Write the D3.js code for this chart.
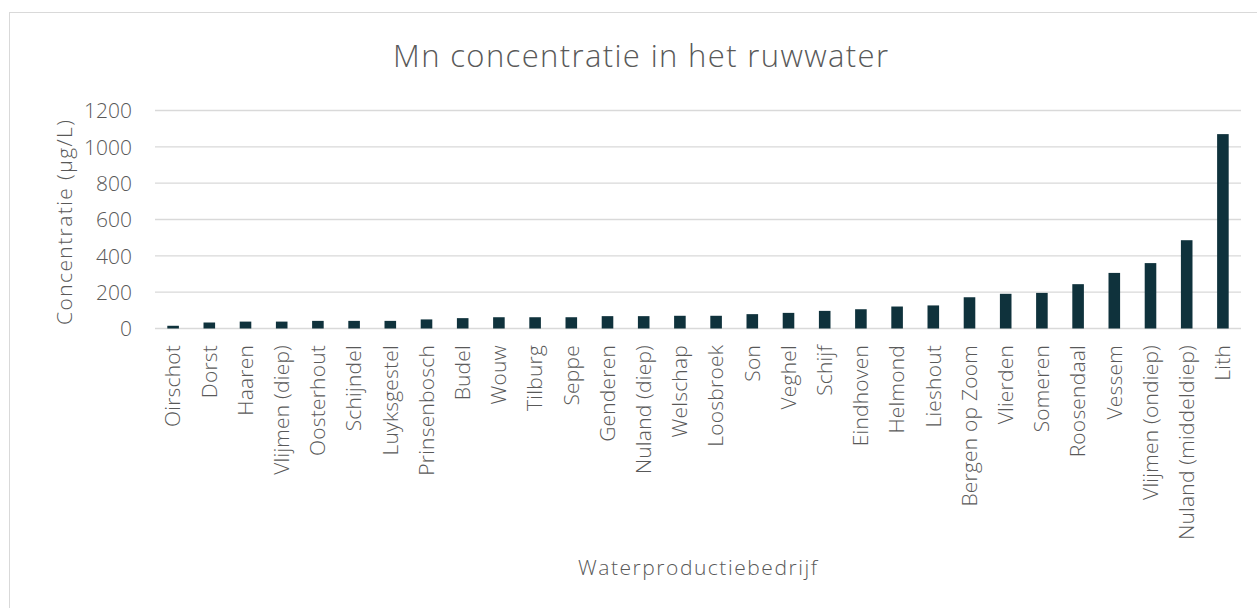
<!DOCTYPE html>
<html>
<head>
<meta charset="utf-8">
<script src="https://cdn.jsdelivr.net/npm/d3@7"></script>
<style>
  body { margin: 0; background: #fff; }
  text { font-family: "Open Sans", "Segoe UI", sans-serif; fill: #595959; font-weight: 300; }
</style>
</head>
<body>
<script>
// Mn concentratie per waterproductiebedrijf
var locations = ["Oirschot", "Dorst", "Haaren", "Vlijmen (diep)", "Oosterhout", "Schijndel",
  "Luyksgestel", "Prinsenbosch", "Budel", "Wouw", "Tilburg", "Seppe", "Genderen",
  "Nuland (diep)", "Welschap", "Loosbroek", "Son", "Veghel", "Schijf", "Eindhoven",
  "Helmond", "Lieshout", "Bergen op Zoom", "Vlierden", "Someren", "Roosendaal",
  "Vessem", "Vlijmen (ondiep)", "Nuland (middeldiep)", "Lith"];
var mnValues = [15, 33, 38, 38, 42, 42, 42, 50, 57, 62, 62, 62, 68, 68, 70, 70, 79, 86,
  97, 106, 121, 127, 172, 191, 196, 244, 306, 360, 486, 1070];
var yTicks = [0, 200, 400, 600, 800, 1000, 1200];

var w = 1257, h = 608;
var svg = d3.select("body").append("svg")
  .attr("width", w)
  .attr("height", h);

// chart border (only top and left visible in the picture)
svg.append("rect")
  .attr("x", 9.5).attr("y", 12.5)
  .attr("width", 1400).attr("height", 800)
  .style("fill", "none")
  .style("stroke", "#d9d9d9");

var x = d3.scaleBand()
  .domain(locations)
  .range([155, 1241])
  .paddingInner(0.68)
  .paddingOuter(0.34);

var y = d3.scaleLinear()
  .domain([0, 1200])
  .range([328.5, 110.5]);

// gridlines
svg.selectAll(".grid")
  .data(yTicks)
  .enter()
  .append("line")
  .attr("class", "grid")
  .attr("x1", 155).attr("x2", 1241)
  .attr("y1", function(d){ return y(d); })
  .attr("y2", function(d){ return y(d); })
  .style("stroke", "#d9d9d9")
  .style("stroke-width", 1.3);

// y axis labels
var yAxis = d3.axisLeft(y).tickValues(yTicks).tickFormat(d3.format("d")).tickSize(0).tickPadding(0);
var yg = svg.append("g")
  .attr("transform", "translate(132,0)")
  .call(yAxis);
yg.select(".domain").remove();
yg.selectAll("text")
  .style("font-size", "21px")
  .style("font-family", null)
  .attr("dy", "0.35em");

// bars
svg.selectAll(".bar")
  .data(mnValues)
  .enter()
  .append("rect")
  .attr("class", "bar")
  .attr("x", function(d, i){ return x(locations[i]); })
  .attr("width", x.bandwidth())
  .attr("y", function(d){ return y(d); })
  .attr("height", function(d){ return y(0) - y(d); })
  .style("fill", "#0f323c");

// x axis labels
var xAxis = d3.axisBottom(x).tickSize(0).tickPadding(0);
var xg = svg.append("g")
  .attr("transform", "translate(0,345)")
  .call(xAxis);
xg.attr("font-family", null);
xg.select(".domain").remove();
xg.selectAll("text")
  .style("font-size", "21px")
  .style("letter-spacing", "0.2px")
  .attr("text-anchor", "end")
  .attr("transform", "rotate(-90)")
  .attr("x", 0)
  .attr("y", 0)
  .attr("dy", "0.35em");
yg.attr("font-family", null);

// titles
svg.append("text")
  .attr("x", 640.5)
  .attr("y", 67)
  .attr("text-anchor", "middle")
  .attr("textLength", 495)
  .style("font-size", "31px")
  .text("Mn concentratie in het ruwwater");

svg.append("text")
  .attr("x", 697.5)
  .attr("y", 575)
  .attr("text-anchor", "middle")
  .attr("textLength", 239)
  .style("font-size", "21px")
  .text("Waterproductiebedrijf");

svg.append("text")
  .attr("transform", "translate(72,222.5) rotate(-90)")
  .attr("text-anchor", "middle")
  .attr("textLength", 205)
  .style("font-size", "21px")
  .text("Concentratie (µg/L)");
</script>
</body>
</html>
